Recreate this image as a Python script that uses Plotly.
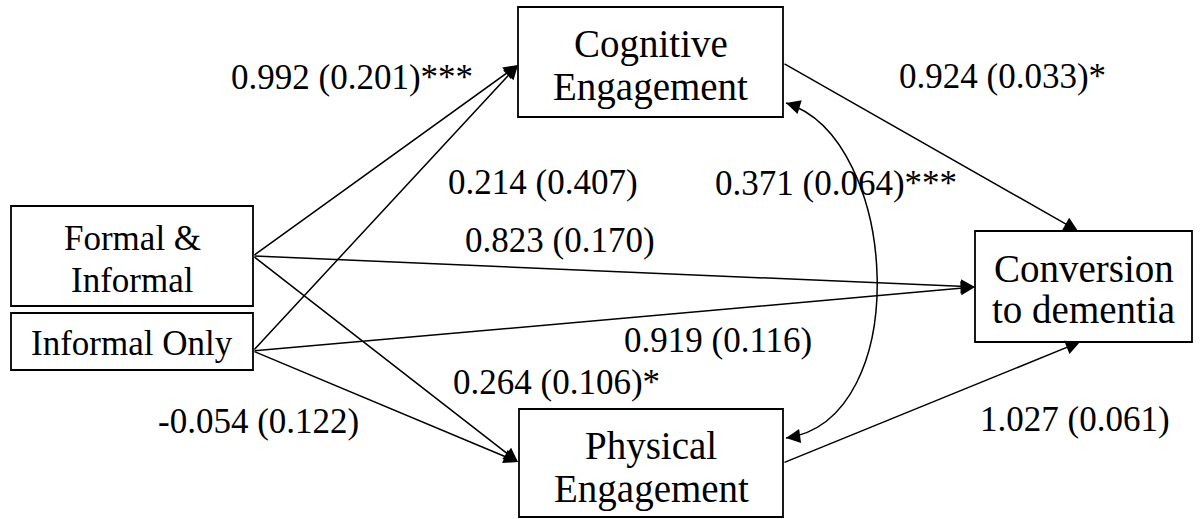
import plotly.graph_objects as go

# ---------------- data ----------------
node_ids = ["formal", "informal", "cog", "phys", "conv"]
node_lines = [["Formal &", "Informal"], ["Informal Only"], ["Cognitive", "Engagement"],
              ["Physical", "Engagement"], ["Conversion", "to dementia"]]

path_from = ["formal", "informal", "formal", "informal", "formal", "informal", "cog", "phys"]
path_to = ["cog", "cog", "conv", "conv", "phys", "phys", "conv", "conv"]
path_coef = [0.992, 0.214, 0.823, 0.919, 0.264, -0.054, 0.924, 1.027]
path_se = [0.201, 0.407, 0.170, 0.116, 0.106, 0.122, 0.033, 0.061]
path_sig = ["***", "", "", "", "*", "", "*", ""]

cov_pair = ["cog", "phys"]
cov_coef = 0.371
cov_se = 0.064
cov_sig = "***"

# ---------------- layout (pixel geometry) ----------------
W, H = 1200, 519
FONT = "Liberation Serif, Times New Roman, serif"
boxes = {  # x0, y0, x1, y1, font size, line gap, vertical text shift
    "formal": (11, 206, 253, 306, 35, 42, 3),
    "informal": (11, 313, 253, 370, 35, 42, 2),
    "cog": (518, 7, 783, 117, 39, 43, 3),
    "phys": (519, 409, 783, 517, 39, 43, 4),
    "conv": (975, 231, 1192, 342, 39, 41, 2),
}
out_port = {"formal": (253, 256), "informal": (253, 351), "cog": (783, 63), "phys": (783, 463)}
edge_tip = [(518, 65), (518, 65), (975, 287), (975, 287), (518, 462), (518, 462), (1078, 231), (1080, 342)]
label_pos = [(352, 77), (543, 182), (560, 240), (718, 340), (556, 382), (258, 421), (1002, 76), (1075, 419)]
cov_label_pos = (836, 183)
ARROW = dict(showarrow=True, arrowhead=2, arrowsize=1.9, arrowwidth=1.5, arrowcolor="black",
             standoff=0, startstandoff=0)

fig = go.Figure()
annotations = []
shapes = []

for nid, lines in zip(node_ids, node_lines):
    x0, y0, x1, y1, fs, gap, dy = boxes[nid]
    shapes.append(dict(type="rect", xref="x", yref="y", x0=x0, y0=y0, x1=x1, y1=y1,
                       line=dict(color="black", width=1.8), fillcolor="rgba(0,0,0,0)"))
    cx, cy = (x0 + x1) / 2, (y0 + y1) / 2 + dy
    n = len(lines)
    for i, t in enumerate(lines):
        yy = cy + (i - (n - 1) / 2) * gap
        annotations.append(dict(x=cx, y=yy, xref="x", yref="y", text=t, showarrow=False,
                                font=dict(family=FONT, size=fs, color="black"),
                                xanchor="center", yanchor="middle"))

for fr, to, c, se, sig, tip, lp in zip(path_from, path_to, path_coef, path_se, path_sig, edge_tip, label_pos):
    tx, ty = out_port[fr]
    annotations.append(dict(x=tip[0], y=tip[1], ax=tx, ay=ty, xref="x", yref="y", axref="x", ayref="y",
                            text="", **ARROW))
    annotations.append(dict(x=lp[0], y=lp[1], xref="x", yref="y", text=f"{c:.3f} ({se:.3f}){sig}",
                            showarrow=False, font=dict(family=FONT, size=35, color="black"),
                            xanchor="center", yanchor="middle"))

# curved double-headed covariance arrow
p0, p1, p2, p3 = (786, 103), (900, 138), (915, 420), (786, 438)
shapes.append(dict(type="path", xref="x", yref="y",
                   path=f"M {p0[0]},{p0[1]} C {p1[0]},{p1[1]} {p2[0]},{p2[1]} {p3[0]},{p3[1]}",
                   line=dict(color="black", width=1.5)))
for tip, ctrl in [(p0, p1), (p3, p2)]:
    dx, dy = ctrl[0] - tip[0], ctrl[1] - tip[1]
    L = (dx * dx + dy * dy) ** 0.5
    annotations.append(dict(x=tip[0], y=tip[1], ax=tip[0] + 14 * dx / L, ay=tip[1] + 14 * dy / L,
                            xref="x", yref="y", axref="x", ayref="y", text="", **ARROW))
annotations.append(dict(x=cov_label_pos[0], y=cov_label_pos[1], xref="x", yref="y",
                        text=f"{cov_coef:.3f} ({cov_se:.3f}){cov_sig}", showarrow=False,
                        font=dict(family=FONT, size=35, color="black"), xanchor="center", yanchor="middle"))

fig.update_layout(width=W, height=H, margin=dict(l=0, r=0, t=0, b=0), autosize=False,
                  paper_bgcolor="white", plot_bgcolor="white", showlegend=False,
                  xaxis=dict(range=[0, W], visible=False, fixedrange=True),
                  yaxis=dict(range=[H, 0], visible=False, fixedrange=True),
                  shapes=shapes, annotations=annotations)
fig.write_html("out.html", config={"displayModeBar": False},
               post_script="document.body.style.margin='0';document.body.style.overflow='hidden';")
